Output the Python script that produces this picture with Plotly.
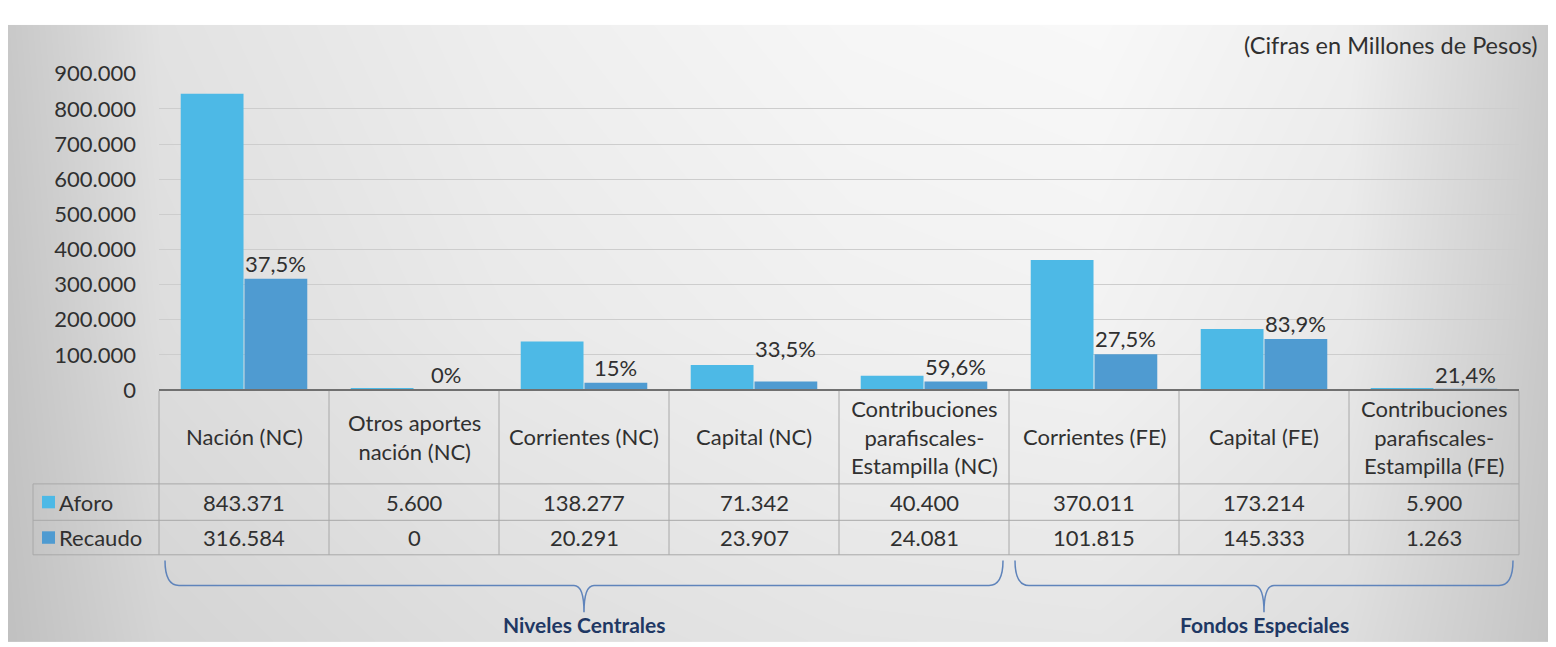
import plotly.graph_objects as go

# categories shown in the data table (line breaks as in the source chart)
categories = [
    "Nación (NC)",
    "Otros aportes<br>nación (NC)",
    "Corrientes (NC)",
    "Capital (NC)",
    "Contribuciones<br>parafiscales-<br>Estampilla (NC)",
    "Corrientes (FE)",
    "Capital (FE)",
    "Contribuciones<br>parafiscales-<br>Estampilla (FE)",
]
aforo = [843371, 5600, 138277, 71342, 40400, 370011, 173214, 5900]
recaudo = [316584, 0, 20291, 23907, 24081, 101815, 145333, 1263]
pct_labels = ["37,5%", "0%", "15%", "33,5%", "59,6%", "27,5%", "83,9%", "21,4%"]
groups = [("Niveles Centrales", 0, 4), ("Fondos Especiales", 5, 7)]
series_names = ["Aforo", "Recaudo"]

W, H = 1556, 647
OFF = 8  # default body margin of the html page, positions below are page pixels
PLOT_L, PLOT_R, PLOT_T, PLOT_B = 159, 1519, 62, 392
ROW_LINES = [490, 528, 564]
LEG_L = 33
BOX_L, BOX_R, BOX_T = 6, 1548, 11
FONT = "Lato"
TXT = "#303030"
COLORS = ["#4db9e6", "#4f9bd1"]
GRID = "#cdcdcd"
TABLE_LINE = "#a8a8a8"
BRACE = "#5f84bb"
GROUP_TXT = "#1f3864"


def px(x):
    return (x - OFF) / W


def py(y):
    return 1 - (y - OFF) / H


n = len(categories)
cw = (PLOT_R - PLOT_L) / n


def edge(i):
    return PLOT_L + i * cw


def fmt(v):
    return f"{v:,}".replace(",", ".")


def label(x, y, text, xref="paper", yref="paper", xanchor="center", yanchor="middle", **kw):
    return dict(xref=xref, yref=yref, x=x, y=y, text=text, showarrow=False,
                xanchor=xanchor, yanchor=yanchor, **kw)


# soft grey gradient behind everything (styling only)
bg_x = [6, 160, 500, 850, 1100, 1350, 1548]
bg_y = [11, 330, 660]
bg_levels = [
    [200, 226, 238, 246, 248, 238, 203],
    [196, 221, 233, 240, 242, 232, 200],
    [192, 212, 222, 228, 229, 221, 196],
]
background = go.Heatmap(
    x=bg_x, y=bg_y, z=bg_levels, zsmooth="best",
    colorscale=[[0, "rgb(0,0,0)"], [1, "rgb(255,255,255)"]],
    zmin=0, zmax=255, showscale=False, hoverinfo="skip",
    xaxis="x", yaxis="y",
)

bars = []
for name, vals, color in zip(series_names, [aforo, recaudo], COLORS):
    bars.append(go.Bar(
        x=list(range(n)), y=vals, name=name, marker_color=color,
        marker_line_width=0, xaxis="x2", yaxis="y2", showlegend=False,
    ))

fig = go.Figure(data=[background] + bars)

shapes = []
annotations = []

# axis line / table top
shapes.append(dict(type="line", xref="paper", yref="paper",
                   x0=px(PLOT_L), x1=px(PLOT_R), y0=py(PLOT_B), y1=py(PLOT_B),
                   line=dict(color="#707070", width=2)))
# table grid
for i in range(n + 1):
    shapes.append(dict(type="line", xref="paper", yref="paper",
                       x0=px(edge(i)), x1=px(edge(i)), y0=py(PLOT_B + 1), y1=py(ROW_LINES[-1]),
                       line=dict(color=TABLE_LINE, width=1)))
for yl in ROW_LINES:
    shapes.append(dict(type="line", xref="paper", yref="paper",
                       x0=px(LEG_L), x1=px(PLOT_R), y0=py(yl), y1=py(yl),
                       line=dict(color=TABLE_LINE, width=1)))
shapes.append(dict(type="line", xref="paper", yref="paper",
                   x0=px(LEG_L), x1=px(LEG_L), y0=py(ROW_LINES[0]), y1=py(ROW_LINES[-1]),
                   line=dict(color=TABLE_LINE, width=1)))

# header row
for i, cat in enumerate(categories):
    annotations.append(label(i, py((PLOT_B + ROW_LINES[0]) / 2), cat, xref="x2",
                             font=dict(size=22, color=TXT)))

# value rows with legend keys
for r, (name, vals, color) in enumerate(zip(series_names, [aforo, recaudo], COLORS)):
    yc = (ROW_LINES[r] + ROW_LINES[r + 1]) / 2
    for i, v in enumerate(vals):
        annotations.append(label(i, py(yc), fmt(v), xref="x2", font=dict(size=22, color=TXT)))
    shapes.append(dict(type="rect", xref="paper", yref="paper",
                       x0=px(42), x1=px(55), y0=py(yc - 6.5), y1=py(yc + 6.5),
                       fillcolor=color, line=dict(width=0)))
    annotations.append(label(px(57), py(yc), name, xanchor="left",
                             font=dict(size=22, color=TXT)))

# percentage labels over the Recaudo bars
label_lift = {3: 18}
for i, lab in enumerate(pct_labels):
    annotations.append(label(i + 0.1875, recaudo[i], lab, xref="x2", yref="y2",
                             yanchor="bottom", yshift=label_lift.get(i, 0),
                             font=dict(size=22, color=TXT)))

# braces + group names
BR_TOP, BR_MID, BR_TIP = 570, 596, 624
for name, a, b in groups:
    x0 = edge(a) + 6
    x1 = edge(b + 1) - 6
    xm = (edge(a) + edge(b + 1)) / 2
    pts = [
        f"M{px(x0)},{py(BR_TOP)}",
        f"Q{px(x0)},{py(BR_MID)} {px(x0 + 14)},{py(BR_MID)}",
        f"L{px(xm - 10)},{py(BR_MID)}",
        f"Q{px(xm)},{py(BR_MID)} {px(xm)},{py(BR_TIP)}",
        f"Q{px(xm)},{py(BR_MID)} {px(xm + 10)},{py(BR_MID)}",
        f"L{px(x1 - 14)},{py(BR_MID)}",
        f"Q{px(x1)},{py(BR_MID)} {px(x1)},{py(BR_TOP)}",
    ]
    shapes.append(dict(type="path", xref="paper", yref="paper", path=" ".join(pts),
                       line=dict(color=BRACE, width=1.5)))
    annotations.append(label(px(xm), py(637), f"<b>{name}</b>",
                             font=dict(size=21, color=GROUP_TXT)))

annotations.append(label(px(1539), py(32), "(Cifras en Millones de Pesos)", xanchor="right",
                         font=dict(size=23.5, color=TXT)))

# background subplot spans the grey box (clamped to the figure)
bx0, by0 = max(BOX_L, OFF), max(BOX_T, OFF)
fig.update_layout(
    width=W, height=H, autosize=False,
    margin=dict(l=0, r=0, t=0, b=0),
    paper_bgcolor="white", plot_bgcolor="rgba(0,0,0,0)",
    font=dict(family=FONT, size=22, color=TXT),
    separators=",.",
    barmode="group", bargap=0.25, bargroupgap=0.015,
    hovermode=False, showlegend=False,
    xaxis=dict(domain=[px(bx0), px(BOX_R)], range=[bx0, BOX_R], visible=False, fixedrange=True),
    yaxis=dict(domain=[0, py(by0)], range=[H + OFF, by0], visible=False, fixedrange=True),
    xaxis2=dict(domain=[px(PLOT_L), px(PLOT_R)], range=[-0.5, n - 0.5], anchor="y2",
                showticklabels=False, showgrid=False, zeroline=False, fixedrange=True),
    yaxis2=dict(domain=[py(PLOT_B), py(PLOT_T)], range=[0, 900000], dtick=100000,
                tickformat=",d", anchor="x2", gridcolor=GRID, gridwidth=1, zeroline=False,
                showline=False, ticklabelstandoff=22, tickfont=dict(size=22, color=TXT),
                fixedrange=True),
    shapes=shapes, annotations=annotations,
)

fig.write_html("out.html")
